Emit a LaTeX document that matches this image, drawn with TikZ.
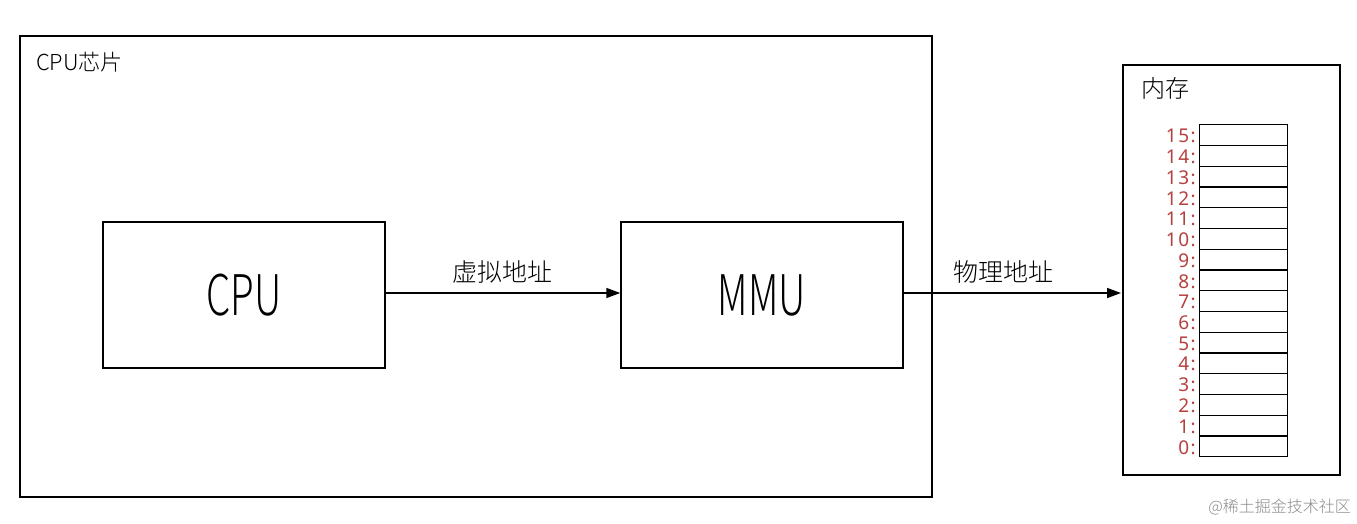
\documentclass[tikz,border=0pt]{standalone}
\usepackage{fontspec}
\usetikzlibrary{arrows.meta}
\newfontfamily\cjk{Noto Sans CJK SC}
\newfontfamily\cjklight{Noto Sans CJK SC Light}
\newfontfamily\narrowfont[FakeStretch=0.69]{Noto Sans CJK SC Light}
\newfontfamily\numfont[LetterSpace=8]{Noto Sans}
\definecolor{numred}{HTML}{B5413F}
\tikzset{
  x=1pt, y=-1pt,
  box/.style={draw=black, line width=1.5pt, fill=white},
  cell/.style={draw=black, line width=1.3pt, minimum width=88pt, minimum height=20.75pt, inner sep=0pt, anchor=north west},
  conn/.style={line width=1.5pt, -{Triangle[length=14pt,width=10pt]}},
  lbl/.style={font=\cjklight\fontsize{25}{25}\selectfont, inner sep=0pt},
  num/.style={font=\numfont\fontsize{19}{19}\selectfont, text=numred, anchor=east, inner sep=0pt},
}
\begin{document}
\begin{tikzpicture}
\useasboundingbox[fill=white] (0,0) rectangle (1357,524);
% CPU chip
\draw[box] (20,36) rectangle (932,497);
\node[anchor=west, inner sep=0pt, font=\cjklight\fontsize{22}{22}\selectfont] (chiplbl) at (36,62) {CPU芯片};
\node[box, minimum width=282pt, minimum height=146pt, inner sep=0pt, font=\narrowfont\fontsize{56}{56}\selectfont] (cpu) at (244,295) {CPU};
\node[box, minimum width=282pt, minimum height=146pt, inner sep=0pt, font=\narrowfont\fontsize{56}{56}\selectfont] (mmu) at (762,295) {MMU};
% memory
\draw[box] (1123,65) rectangle (1340,475);
\node[anchor=west, inner sep=0pt, font=\cjklight\fontsize{24}{24}\selectfont] (memlbl) at (1141,88) {内存};
\foreach \i in {0,...,15}{
  \pgfmathsetmacro{\yy}{124+(15-\i)*20.75}
  \node[cell] (c\i) at (1199,\yy) {};
  \node[num] (n\i) at ([xshift=-3pt,yshift=-1pt]c\i.west) {\i:};
}
\coordinate (memin) at (1121,293);
% connectors
\draw[conn] (cpu.east |- 0,293) -- (mmu.west |- 0,293);
\draw[conn] (mmu.east |- 0,293) -- (memin);
\node[lbl] (va) at (502,272) {虚拟地址};
\node[lbl] (pa) at (1003,272) {物理地址};
% watermark
\node[anchor=east, inner sep=0pt, text=black!45, font=\cjklight\fontsize{16}{16}\selectfont] (wm) at (1351,507) {@稀土掘金技术社区};
\end{tikzpicture}
\end{document}
